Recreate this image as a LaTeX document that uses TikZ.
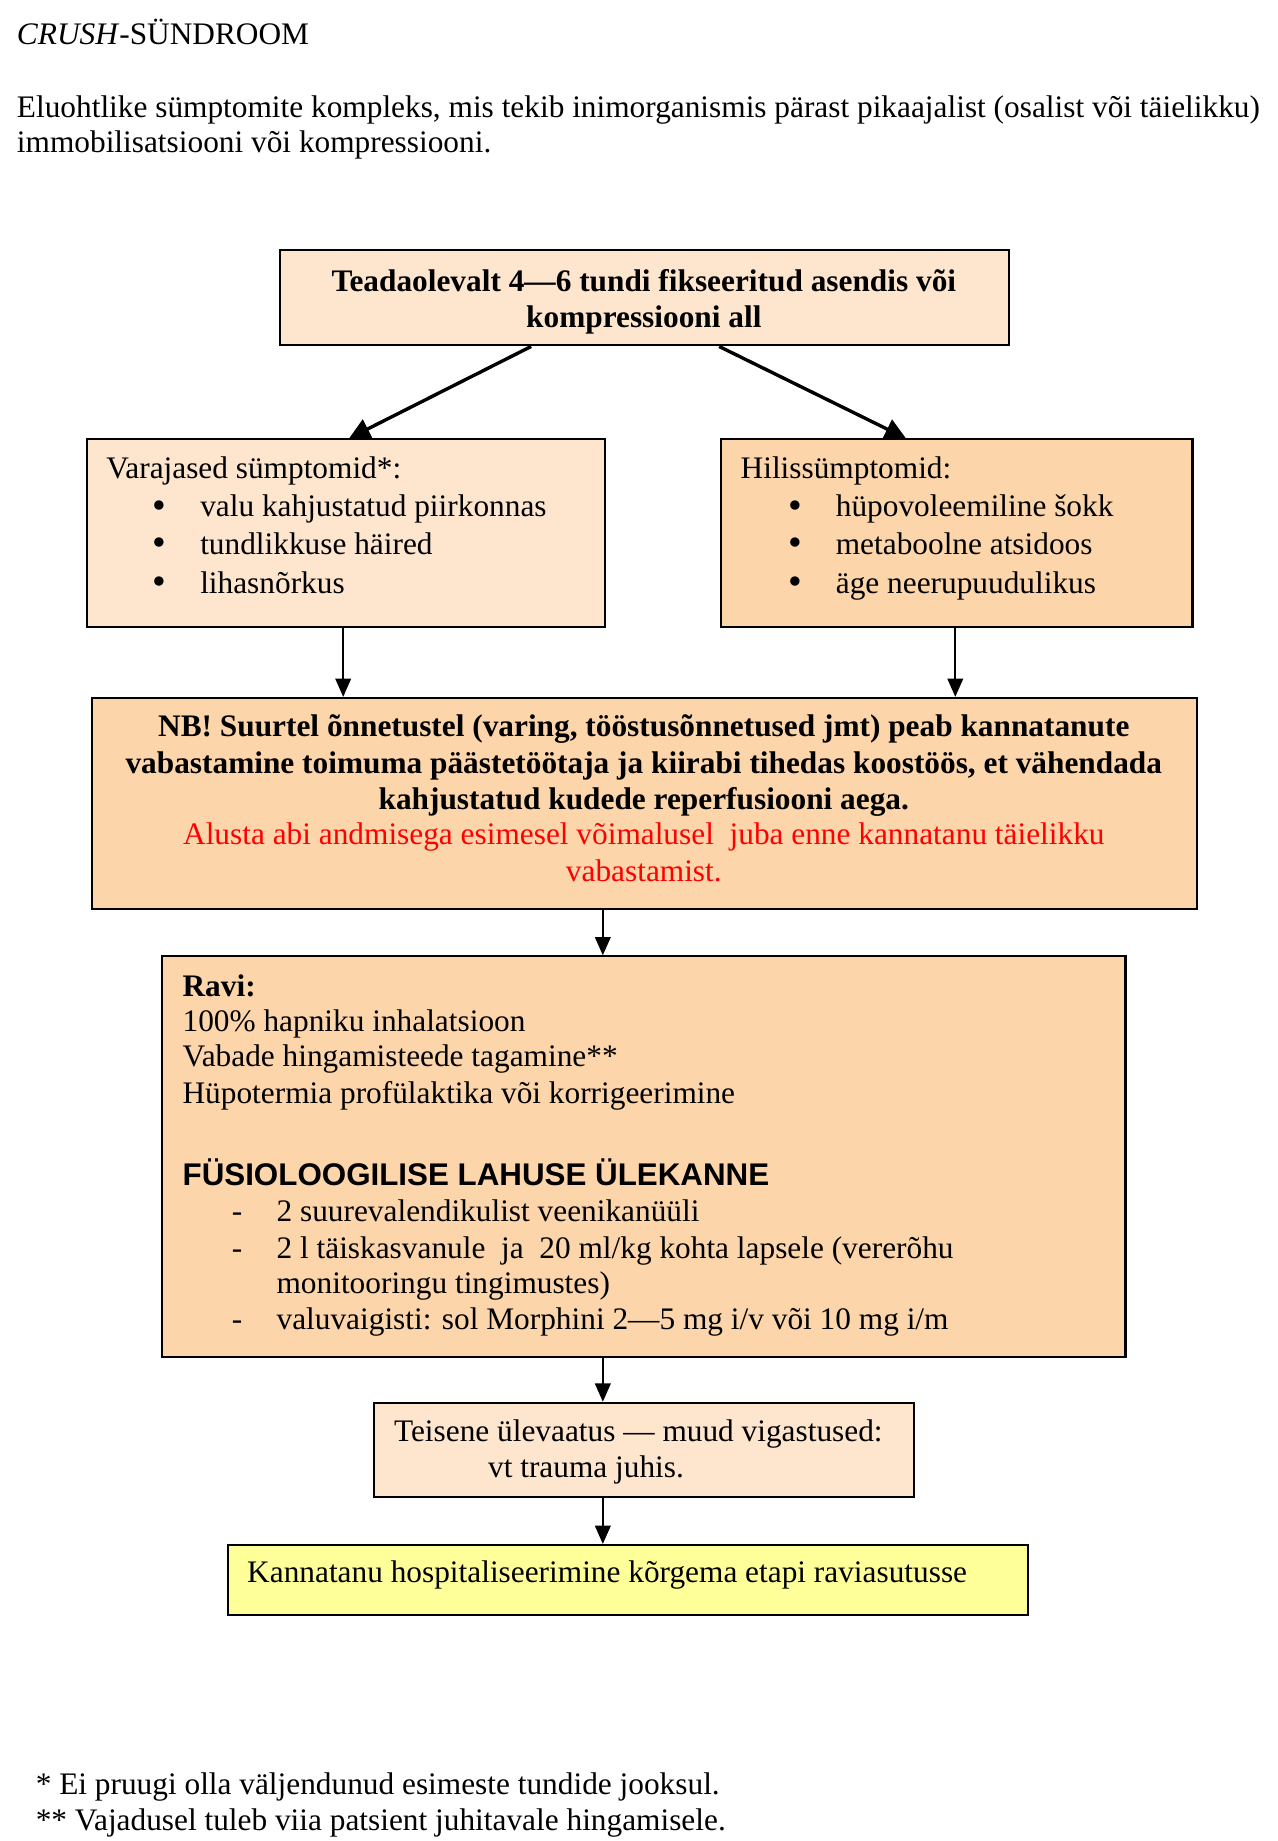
\documentclass[tikz,border=0pt]{standalone}
\usepackage{fontspec}
\setmainfont{Liberation Serif}
\setsansfont{Liberation Sans}
\usetikzlibrary{arrows.meta,fit}
\definecolor{peachA}{HTML}{FDE5CE}
\definecolor{peachB}{HTML}{FCD5AA}
\definecolor{yelbox}{HTML}{FFFF99}
\begin{document}
\begin{tikzpicture}[x=0.45pt,y=-0.45pt,
  every node/.style={font=\fontsize{12}{13.8}\selectfont},
  box/.style={draw=black,line width=0.8pt,inner sep=0pt},
  txt/.style={inner sep=0pt,anchor=base west},
  ctxt/.style={inner sep=0pt,anchor=base},
  bul/.style={inner sep=0pt,anchor=base west,font=\fontsize{15}{15}\selectfont},
  diag/.style={line width=1.3pt,-{Triangle[length=8pt,width=8pt]}},
  vert/.style={line width=0.7pt,-{Triangle[length=7pt,width=6pt]}}]
\useasboundingbox (0,0) rectangle (1087,1567);
\fill[white] (0,0) rectangle (1087,1567);
% title and intro
\node[txt] (title) at (14,38) {\textit{CRUSH}-SÜNDROOM};
\node[txt] (intro1) at (14,100) {Eluohtlike sümptomite kompleks, mis tekib inimorganismis pärast pikaajalist (osalist või täielikku)};
\node[txt] (intro2) at (14,130) {immobilisatsiooni või kompressiooni.};
% boxes
\node[box,fill=peachA,fit={(238,213) (859,294)}] (b1) {};
\node[box,fill=peachA,fit={(74,374) (515,534)}] (b2) {};
\node[box,fill=peachB,fit={(614,374) (1015,534)}] (b3) {};
\node[box,fill=peachB,fit={(78,594) (1019,774)}] (b4) {};
\node[box,fill=peachB,fit={(138,814) (958,1155)}] (b5) {};
\node[box,fill=peachA,fit={(318,1194) (778,1274)}] (b6) {};
\node[box,fill=yelbox,fit={(194,1315) (875,1375)}] (b7) {};
% box 1 text
\node[ctxt,font=\fontsize{12}{13.8}\selectfont\bfseries] (t1a) at (548,248) {Teadaolevalt 4—6 tundi fikseeritud asendis või};
\node[ctxt,font=\fontsize{12}{13.8}\selectfont\bfseries] (t1b) at (548,279) {kompressiooni all};
% box 2 text
\node[txt] (t2a) at (90,407) {Varajased sümptomid*:};
\node[bul] (t2b1) at (129,441) {•};
\node[txt] (t2b) at (170,440) {valu kahjustatud piirkonnas};
\node[bul] (t2c1) at (129,473) {•};
\node[txt] (t2c) at (170,472) {tundlikkuse häired};
\node[bul] (t2d1) at (129,506) {•};
\node[txt] (t2d) at (170,505) {lihasnõrkus};
% box 3 text
\node[txt] (t3a) at (630,407) {Hilissümptomid:};
\node[bul] (t3b1) at (671,441) {•};
\node[txt] (t3b) at (711,440) {hüpovoleemiline šokk};
\node[bul] (t3c1) at (671,473) {•};
\node[txt] (t3c) at (711,472) {metaboolne atsidoos};
\node[bul] (t3d1) at (671,506) {•};
\node[txt] (t3d) at (711,505) {äge neerupuudulikus};
% box 4 text
\node[ctxt,font=\fontsize{12}{13.8}\selectfont\bfseries] (t4a) at (548,627) {NB! Suurtel õnnetustel (varing, tööstusõnnetused jmt) peab kannatanute};
\node[ctxt,font=\fontsize{12}{13.8}\selectfont\bfseries] (t4b) at (548,658) {vabastamine toimuma päästetöötaja ja kiirabi tihedas koostöös, et vähendada};
\node[ctxt,font=\fontsize{12}{13.8}\selectfont\bfseries] (t4c) at (548,689) {kahjustatud kudede reperfusiooni aega.};
\node[ctxt,text=red] (t4d) at (548,719) {Alusta abi andmisega esimesel võimalusel\ \ juba enne kannatanu täielikku};
\node[ctxt,text=red] (t4e) at (548,750) {vabastamist.};
% box 5 text
\node[txt,font=\fontsize{12}{13.8}\selectfont\bfseries] (t5a) at (155,848) {Ravi:};
\node[txt] (t5b) at (155,878) {100\% hapniku inhalatsioon};
\node[txt] (t5c) at (155,908) {Vabade hingamisteede tagamine**};
\node[txt] (t5d) at (155,939) {Hüpotermia profülaktika või korrigeerimine};
\node[txt,font=\fontsize{12}{13.8}\selectfont\sffamily\bfseries] (t5e) at (155,1009) {FÜSIOLOOGILISE LAHUSE ÜLEKANNE};
\node[txt] (t5f1) at (197,1040) {-};
\node[txt] (t5f) at (235,1040) {2 suurevalendikulist veenikanüüli};
\node[txt] (t5g1) at (197,1071) {-};
\node[txt] (t5g) at (235,1071) {2 l täiskasvanule\ \ ja\ \ 20 ml/kg kohta lapsele (vererõhu};
\node[txt] (t5h) at (235,1101) {monitooringu tingimustes)};
\node[txt] (t5i1) at (197,1132) {-};
\node[txt] (t5i) at (235,1132) {valuvaigisti: sol Morphini 2—5 mg i/v või 10 mg i/m};
% box 6 text
\node[txt] (t6a) at (335,1227) {Teisene ülevaatus — muud vigastused:};
\node[txt] (t6b) at (415,1258) {vt trauma juhis.};
% box 7 text
\node[txt] (t7) at (210,1347) {Kannatanu hospitaliseerimine kõrgema etapi raviasutusse};
% footnotes
\node[txt] (f1) at (30,1527) {* Ei pruugi olla väljendunud esimeste tundide jooksul.};
\node[txt] (f2) at (30,1558) {** Vajadusel tuleb viia patsient juhitavale hingamisele.};
% connectors
\draw[diag] ([shift={(215,0)}]b1.south west) -- ([shift={(224,0)}]b2.north west);
\draw[diag] ([shift={(375,0)}]b1.south west) -- ([shift={(158,0)}]b3.north west);
\draw[vert] ([shift={(219,0)}]b2.south west) -- ([shift={(215,0)}]b4.north west);
\draw[vert] ([shift={(200,0)}]b3.south west) -- ([shift={(736,0)}]b4.north west);
\draw[vert] ([shift={(436,0)}]b4.south west) -- ([shift={(376,0)}]b5.north west);
\draw[vert] ([shift={(376,0)}]b5.south west) -- ([shift={(196,0)}]b6.north west);
\draw[vert] ([shift={(196,0)}]b6.south west) -- ([shift={(320,0)}]b7.north west);
\end{tikzpicture}
\end{document}
